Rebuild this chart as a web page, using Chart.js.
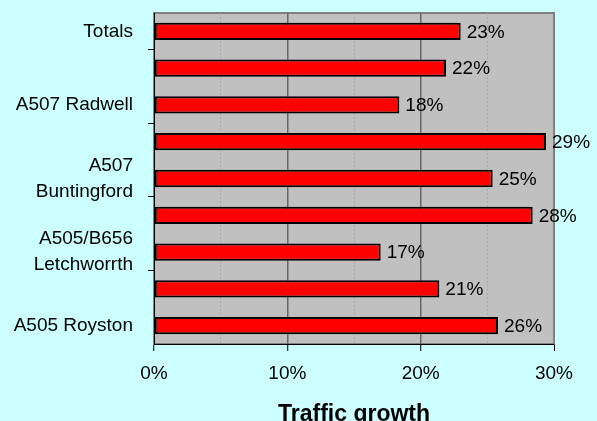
<!DOCTYPE html>
<html>
<head>
<meta charset="utf-8">
<script src="https://cdn.jsdelivr.net/npm/chart.js@4.4.1/dist/chart.umd.min.js"></script>
<style>
  body { margin: 0; background: #ccffff; }
  canvas { display: block; }
</style>
</head>
<body>
<canvas id="growthChart" width="597" height="421"></canvas>
<script>
const categories = ['Totals', '', 'A507 Radwell', '', ['A507', 'Buntingford'], '', ['A505/B656', 'Letchworrth'], '', 'A505 Royston']
const growth = [23.0, 21.9, 18.4, 29.4, 25.4, 28.4, 17.0, 21.4, 25.8]
const xTicks = [0, 10, 20, 30]

const fontFamily = '"Liberation Sans", Arial, sans-serif'

// grey plot area with a border, like the spreadsheet original
const plotBackground = {
  id: 'plotBackground',
  beforeDraw(chart) {
    const { ctx, chartArea: a } = chart
    ctx.save()
    ctx.fillStyle = '#ccffff'
    ctx.fillRect(0, 0, chart.width, chart.height)
    ctx.fillStyle = '#c0c0c0'
    ctx.fillRect(a.left, a.top, a.right - a.left, a.bottom - a.top)
    ctx.strokeStyle = '#808080'
    ctx.lineWidth = 2
    ctx.strokeRect(a.left, a.top, a.right - a.left, a.bottom - a.top)
    ctx.restore()
  }
}

// percentage labels at the end of each bar
const valueLabels = {
  id: 'valueLabels',
  afterDatasetsDraw(chart) {
    const { ctx } = chart
    const meta = chart.getDatasetMeta(0)
    ctx.save()
    ctx.font = '19px ' + fontFamily
    ctx.fillStyle = '#000'
    ctx.textBaseline = 'middle'
    meta.data.forEach((bar, i) => {
      ctx.fillText(Math.round(growth[i]) + '%', bar.x + 6, bar.y + 1)
    })
    ctx.restore()
  }
}

const isMajor = c => c.tick && c.tick.value % 10 === 0

let ctx = document.querySelector('#growthChart').getContext('2d')

let growthChart = new Chart(ctx, {
  type: 'bar',
  data: {
    labels: categories,
    datasets: [{
      data: growth,
      backgroundColor: '#ff0000',
      borderColor: '#000000',
      borderWidth: 2,
      borderSkipped: false,
      barPercentage: 0.47,
      categoryPercentage: 1
    }]
  },
  options: {
    indexAxis: 'y',
    responsive: false,
    animation: false,
    layout: { padding: { top: 13, right: 43, bottom: 0, left: 0 } },
    plugins: {
      legend: { display: false },
      tooltip: { enabled: false }
    },
    scales: {
      x: {
        min: 0,
        max: 30,
        grid: {
          color: c => {
            if (!c.tick) return '#000'
            const v = c.tick.value
            if (v === 0) return 'rgba(0,0,0,0)'
            if (v === 30) return '#808080'
            return v % 10 === 0 ? '#666666' : '#a8a8a8'
          },
          lineWidth: c => (c.tick && c.tick.value % 10 === 0 && c.tick.value !== 30) ? 1.5 : 1,
          tickColor: c => isMajor(c) ? '#000' : 'rgba(0,0,0,0)',
          tickWidth: 1,
          tickLength: 7
        },
        border: {
          color: '#000',
          width: 1,
          dash: c => (c.tick && c.tick.value % 10 !== 0) ? [2, 2] : []
        },
        ticks: {
          stepSize: 5,
          autoSkip: false,
          maxRotation: 0,
          color: '#000',
          padding: 11,
          font: { family: fontFamily, size: 19 },
          callback: v => xTicks.includes(v) ? v + '%' : ''
        },
        title: {
          display: true,
          text: 'Traffic growth',
          color: '#000',
          padding: 0,
          font: { family: fontFamily, size: 23, weight: 'bold', lineHeight: 0.55 }
        },
        afterFit: s => { s.height = 77; s.paddingLeft = 0; s.paddingRight = 0 }
      },
      y: {
        grid: {
          drawOnChartArea: false,
          tickLength: 6,
          tickColor: c => c.index % 2 === 1 ? '#000' : 'rgba(0,0,0,0)'
        },
        border: { color: '#000', width: 1 },
        ticks: {
          autoSkip: false,
          color: '#000',
          padding: 15,
          font: { family: fontFamily, size: 19, lineHeight: 1.35 }
        },
        afterFit: s => { s.width = 154; s.paddingTop = 0; s.paddingBottom = 0 }
      }
    }
  },
  plugins: [plotBackground, valueLabels]
})
</script>
</body>
</html>
